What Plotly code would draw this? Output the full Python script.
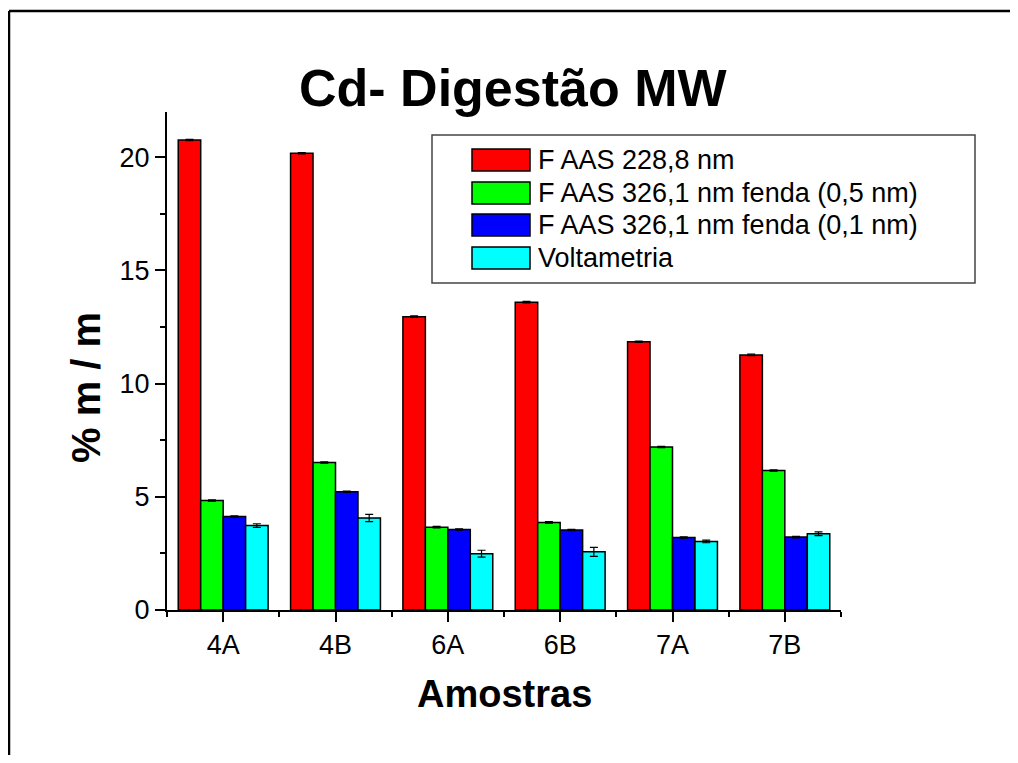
import plotly.graph_objects as go

# data
samples = ['4A', '4B', '6A', '6B', '7A', '7B']
series_names = ['F AAS 228,8 nm', 'F AAS 326,1 nm fenda (0,5 nm)',
                'F AAS 326,1 nm fenda (0,1 nm)', 'Voltametria']
faas_228 = [20.76, 20.18, 12.96, 13.60, 11.85, 11.27]
faas_326_05 = [4.84, 6.52, 3.66, 3.87, 7.20, 6.16]
faas_326_01 = [4.13, 5.22, 3.56, 3.53, 3.20, 3.22]
voltametria = [3.73, 4.06, 2.49, 2.57, 3.03, 3.37]
err_228 = [0.03, 0.03, 0.03, 0.03, 0.03, 0.03]
err_326_05 = [0.03, 0.03, 0.03, 0.03, 0.03, 0.03]
err_326_01 = [0.03, 0.03, 0.03, 0.03, 0.03, 0.03]
err_volt = [0.08, 0.16, 0.15, 0.20, 0.06, 0.08]

colors = ['#FF0000', '#00FF00', '#0000FF', '#00FFFF']
FONT = 'Liberation Sans, Arial, sans-serif'

fig = go.Figure()
xpos = list(range(len(samples)))
for name, vals, errs, col in zip(series_names,
                                 [faas_228, faas_326_05, faas_326_01, voltametria],
                                 [err_228, err_326_05, err_326_01, err_volt],
                                 colors):
    fig.add_trace(go.Bar(
        x=xpos, y=vals, name=name,
        marker=dict(color=col, line=dict(color='black', width=1.5)),
        error_y=dict(type='data', array=errs, color='black', thickness=1.2, width=4),
        showlegend=False
    ))

# page has an 8px body margin, so the figure is a bit smaller than the window
OFF = 8
W, H = 1002, 747
L, R, T, B = 159, 169, 104, 145
pw, ph = W - L - R, H - T - B

# helpers take window pixel positions and return paper coords
def px(x):
    return (x - OFF - L) / pw

def py(y):
    return (H - B - (y - OFF)) / ph

shapes = []
annotations = []

# outer frame: only top and left edges are inside the window
shapes.append(dict(type='line', xref='paper', yref='paper',
                   x0=px(9), x1=px(1060), y0=py(11), y1=py(11),
                   line=dict(color='black', width=2.5)))
shapes.append(dict(type='line', xref='paper', yref='paper',
                   x0=px(9), x1=px(9), y0=py(11), y1=py(800),
                   line=dict(color='black', width=2.5)))

# legend box
shapes.append(dict(type='rect', xref='paper', yref='paper',
                   x0=px(432), x1=px(975), y0=py(283), y1=py(135),
                   line=dict(color='#444444', width=1.5), fillcolor='white'))
row_tops = [149, 182, 214, 247]
for name, col, top in zip(series_names, colors, row_tops):
    shapes.append(dict(type='rect', xref='paper', yref='paper',
                       x0=px(472), x1=px(530), y0=py(top + 22), y1=py(top),
                       line=dict(color='black', width=1.5), fillcolor=col))
    annotations.append(dict(text=name, xref='paper', yref='paper',
                            x=px(536), y=py(top + 11), xanchor='left', yanchor='middle',
                            showarrow=False, font=dict(family=FONT, size=27, color='black')))

# title and axis titles
annotations.append(dict(text='<b>Cd- Digestão MW</b>', xref='paper', yref='paper',
                        x=px(513), y=py(88), xanchor='center', yanchor='middle',
                        showarrow=False, font=dict(family=FONT, size=52, color='black')))
annotations.append(dict(text='<b>Amostras</b>', xref='paper', yref='paper',
                        x=px(504), y=py(694), xanchor='center', yanchor='middle',
                        showarrow=False, font=dict(family=FONT, size=38, color='black')))
annotations.append(dict(text='<b>% m / m</b>', xref='paper', yref='paper',
                        x=px(86), y=py(388), xanchor='center', yanchor='middle',
                        textangle=-90, showarrow=False,
                        font=dict(family=FONT, size=40, color='black')))

fig.update_layout(
    width=W, height=H,
    margin=dict(l=L, r=R, t=T, b=B, pad=0),
    barmode='group', bargap=0.2, bargroupgap=0,
    paper_bgcolor='white', plot_bgcolor='white',
    font=dict(family=FONT, color='black'),
    shapes=shapes, annotations=annotations,
    xaxis=dict(
        range=[-0.5, 5.5], tickmode='array', tickvals=xpos, ticktext=samples,
        showgrid=False, zeroline=False,
        showline=True, linecolor='black', linewidth=2,
        ticks='outside', ticklen=10, tickwidth=2, tickcolor='black',
        tickfont=dict(size=27),
        minor=dict(tick0=0.5, dtick=1, ticks='outside', ticklen=5, tickwidth=2, tickcolor='black')
    ),
    yaxis=dict(
        range=[0, 22], tickmode='linear', tick0=0, dtick=5,
        showgrid=False, zeroline=False,
        showline=True, linecolor='black', linewidth=2,
        ticks='outside', ticklen=10, tickwidth=2, tickcolor='black',
        tickfont=dict(size=27),
        minor=dict(tick0=0, dtick=2.5, ticks='outside', ticklen=5, tickwidth=2, tickcolor='black')
    ),
)

fig.write_html('out.html')
